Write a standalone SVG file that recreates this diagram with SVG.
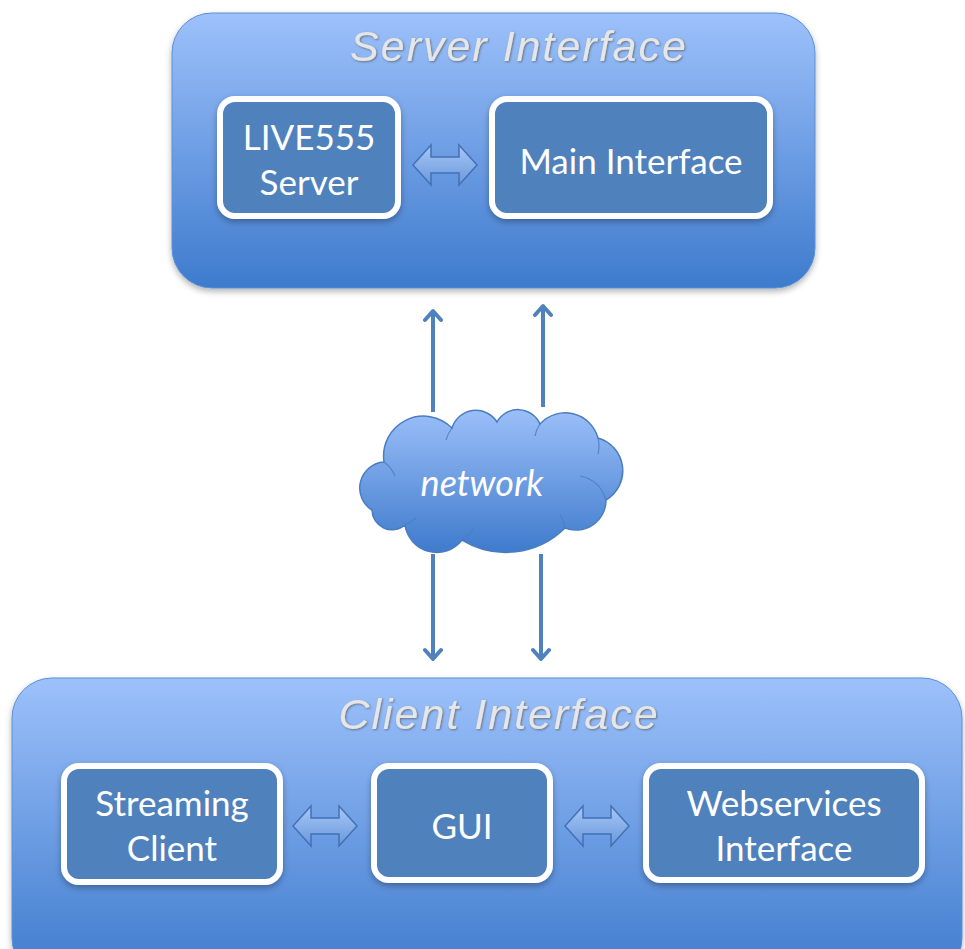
<svg xmlns="http://www.w3.org/2000/svg" width="965" height="949" viewBox="0 0 965 949">
<defs>
<linearGradient id="gBig" x1="0" y1="0" x2="0" y2="1">
<stop offset="0" stop-color="#9dc1fb"/>
<stop offset="1" stop-color="#3e7bcd"/>
</linearGradient>
<linearGradient id="gCloud" x1="0" y1="0" x2="0" y2="1">
<stop offset="0" stop-color="#9bbff9"/>
<stop offset="1" stop-color="#3f7bcc"/>
</linearGradient>
<linearGradient id="gDbl" x1="0" y1="0" x2="0" y2="1">
<stop offset="0" stop-color="#a8c8f6"/>
<stop offset="1" stop-color="#6997dc"/>
</linearGradient>
<filter id="shadow" x="-10%" y="-10%" width="120%" height="130%">
<feDropShadow dx="0" dy="3" stdDeviation="3" flood-color="#000" flood-opacity="0.3"/>
</filter>
<filter id="tshadow" x="-5%" y="-20%" width="110%" height="140%">
<feDropShadow dx="1" dy="1" stdDeviation="0.8" flood-color="#555" flood-opacity="0.7"/>
</filter>
<filter id="blur1"><feGaussianBlur stdDeviation="0.6"/></filter>
<marker id="head" viewBox="0 0 20 20" refX="16" refY="10" markerWidth="20" markerHeight="20" markerUnits="userSpaceOnUse" orient="auto">
<polyline points="7,2 16,10 7,18" fill="none" stroke="#4f81bd" stroke-width="4" stroke-linecap="round" stroke-linejoin="round"/>
</marker>
<path id="dbl" d="M0,0 L18,-20 L18,-8 L46,-8 L46,-20 L64,0 L46,20 L46,8 L18,8 L18,20 Z"/>
<style>
.cont{fill:url(#gBig);stroke:#5a8fd6;stroke-width:1;filter:url(#shadow)}
.box{fill:#4f81bd;stroke:#fff;stroke-width:6;filter:url(#shadow)}
.title{font-family:"Liberation Sans",Arial,sans-serif;font-style:italic;font-size:43px;letter-spacing:2px;fill:#e6e6e6;text-anchor:middle;filter:url(#tshadow)}
.lbl{font-family:Lato,"Open Sans",sans-serif;font-size:35px;fill:#fff;text-anchor:middle}
.dbl{fill:url(#gDbl);stroke:#4272b5;stroke-width:1.5;filter:url(#blur1)}
.conn{stroke:#4f81bd;stroke-width:4;fill:none}
</style>
</defs>
<rect width="965" height="949" fill="#fff"/>

<g id="server-interface">
<rect class="cont" x="172" y="13" width="643" height="275" rx="40"/>
<text class="title" x="519" y="61">Server Interface</text>
</g>
<g id="live555-server">
<rect class="box" x="220" y="99" width="178" height="117" rx="15"/>
<text class="lbl" x="309" y="150">LIVE555</text>
<text class="lbl" x="309" y="195">Server</text>
</g>
<g id="main-interface">
<rect class="box" x="492" y="99" width="278" height="117" rx="15"/>
<text class="lbl" x="631" y="174">Main Interface</text>
</g>

<g id="client-interface">
<rect class="cont" x="12" y="678" width="950" height="300" rx="40"/>
<text class="title" x="499" y="729">Client Interface</text>
</g>
<g id="streaming-client">
<rect class="box" x="64" y="766" width="216" height="116" rx="15"/>
<text class="lbl" x="172" y="816">Streaming</text>
<text class="lbl" x="172" y="861">Client</text>
</g>
<g id="gui">
<rect class="box" x="374" y="766" width="176" height="114" rx="15"/>
<text class="lbl" x="462" y="839">GUI</text>
</g>
<g id="webservices-interface">
<rect class="box" x="646" y="766" width="276" height="114" rx="15"/>
<text class="lbl" x="784" y="816">Webservices</text>
<text class="lbl" x="784" y="861">Interface</text>
</g>

<g id="network">
<path d="M372,510 A26,26 0 0 1 384,462 A40,40 0 0 1 452,428 A25,25 0 0 1 497,422 A24,24 0 0 1 540,424 A34,34 0 0 1 598,438 A34,34 0 0 1 606,500 A30,30 0 0 1 565,528 A84,84 0 0 1 462,540 A32,32 0 0 1 405,525 A20,20 0 0 1 372,510 Z" fill="url(#gCloud)" stroke="#4a7cc0" stroke-width="1.5"/>
<g fill="none" stroke="#4a7cc0" stroke-width="1.2" opacity="0.8">
<path d="M384,462 Q392,468 395,476"/>
<path d="M452,428 Q448,433 446,440"/>
<path d="M540,424 Q536,430 535,436"/>
<path d="M598,438 Q600,446 598,454"/>
<path d="M606,500 Q600,480 580,476"/>
<path d="M565,528 Q564,520 560,515"/>
<path d="M462,540 Q470,535 474,528"/>
<path d="M405,525 Q412,522 416,518"/>
</g>
<text x="482" y="496" font-family="Lato,'Open Sans',sans-serif" font-style="italic" font-size="36" fill="#fff" text-anchor="middle">network</text>
</g>

<g id="connectors">
<use href="#dbl" class="dbl" transform="translate(413,165)"/>
<use href="#dbl" class="dbl" transform="translate(293,826)"/>
<use href="#dbl" class="dbl" transform="translate(565,826)"/>
<line class="conn" x1="433" y1="412" x2="433" y2="311" marker-end="url(#head)"/>
<line class="conn" x1="543" y1="407" x2="543" y2="306" marker-end="url(#head)"/>
<line class="conn" x1="433" y1="554" x2="433" y2="659" marker-end="url(#head)"/>
<line class="conn" x1="541" y1="554" x2="541" y2="659" marker-end="url(#head)"/>
</g>
</svg>
